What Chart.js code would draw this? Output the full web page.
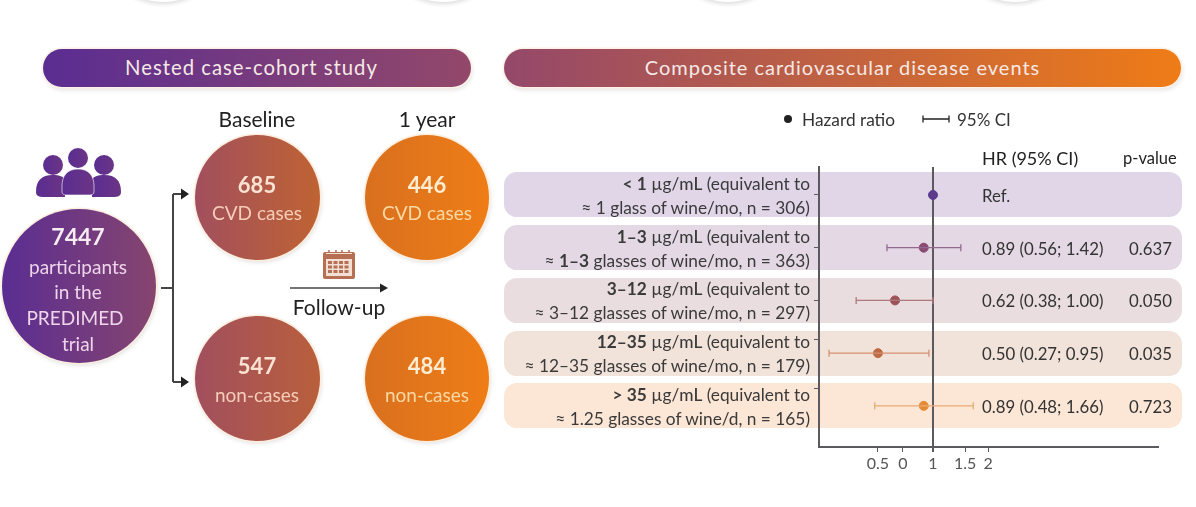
<!DOCTYPE html>
<html>
<head>
<meta charset="utf-8">
<title>Composite cardiovascular disease events</title>
<script src="https://cdn.jsdelivr.net/npm/chart.js@4/dist/chart.umd.min.js"></script>
<style>
  html, body { margin: 0; padding: 0; background: #fff; }
  body { width: 1196px; height: 507px; position: relative; overflow: hidden; font-family: Lato, sans-serif; color: #333; }
  #chart { position: absolute; left: 0; top: 0; z-index: 2; }
  .abs { position: absolute; white-space: nowrap; z-index: 3; }
  .center { transform: translate(-50%, -50%); text-align: center; }
  .middle { transform: translateY(-50%); }
  .pill { position: absolute; top: 49px; height: 38px; border-radius: 19px; color: #f6e9e6; font-size: 20px; letter-spacing: 1px; line-height: 37px; text-align: center; box-shadow: 0 0 0 1.5px #fdf0e6, 1px 3px 5px rgba(0,0,0,.12); }
  .circle { position: absolute; border-radius: 50%; box-shadow: 0 0 0 1.5px #fdeedd, 1px 2px 5px rgba(0,0,0,.15); }
  .band { position: absolute; left: 504px; width: 678px; height: 45px; border-radius: 13px; z-index: 1; }
  .ghost { position: absolute; top: -128px; width: 130px; height: 130px; border-radius: 50%; background: #fff; box-shadow: 0 2px 4px rgba(0,0,0,.14); }
  .row-label { right: 386px; text-align: right; font-size: 17.3px; color: #3a3a3a; transform: translateY(-50%); }
  .big { font-size: 22px; font-weight: 700; }
  .small { font-size: 19px; }
  b.mid { font-weight: 500; }
</style>
</head>
<body>
<div class="ghost" style="left:98px"></div>
<div class="ghost" style="left:378px"></div>
<div class="ghost" style="left:663px"></div>
<div class="ghost" style="left:950px"></div>

<div class="pill" style="left:43px;width:428px;padding-right:0;text-indent:-11px;font-size:20.3px;background:linear-gradient(90deg,#5a2d92,#93486a)">Nested case-cohort study</div>
<div class="pill" style="left:504px;width:677px;background:linear-gradient(90deg,#94486a,#ef7c16)">Composite cardiovascular disease events</div>

<!-- people icon -->
<svg class="abs" style="left:34px;top:146px" width="90" height="54" viewBox="0 0 90 54">
  <defs><linearGradient id="pg" x1="0" x2="1" y1="0" y2="0"><stop offset="0" stop-color="#5a2d92"/><stop offset="1" stop-color="#6b3585"/></linearGradient></defs>
  <g fill="url(#pg)">
    <circle cx="19" cy="19" r="10"/><path d="M2 46c0-11 5-17 17-17 6 0 9 1 12 4v18H10c-5 0-8-1-8-5z"/>
    <circle cx="70" cy="19" r="10"/><path d="M87 46c0-11-5-17-17-17-6 0-9 1-12 4v18h21c5 0 8-1 8-5z"/>
    <path d="M28 40c0-10 5-17 16-17s16 7 16 17v6c0 2-2 3-4 3H32c-2 0-4-1-4-3z" stroke="#fff" stroke-width=".6"/>
    <circle cx="44" cy="12" r="10"/>
  </g>
</svg>

<div class="circle" style="left:2px;top:209px;width:154px;height:154px;background:linear-gradient(90deg,#5a2d92,#86456f)"></div>
<div class="abs center big" style="left:78px;top:236px;color:#f6ecf2;font-size:23px">7447</div>
<div class="abs center small" style="left:78px;top:266px;color:#eed5ea">participants</div>
<div class="abs center small" style="left:78px;top:291px;color:#eed5ea">in the</div>
<div class="abs center small" style="left:75px;top:317px;color:#eed5ea">PREDIMED</div>
<div class="abs center small" style="left:78px;top:343px;color:#eed5ea">trial</div>

<div class="abs center" style="left:257px;top:118px;font-size:21px;color:#222">Baseline</div>
<div class="abs center" style="left:427px;top:118px;font-size:21px;color:#222">1 year</div>

<div class="circle" style="left:195px;top:135px;width:125px;height:125px;background:linear-gradient(90deg,#a14f5e,#bf6332)"></div>
<div class="circle" style="left:365px;top:135px;width:124px;height:125px;background:linear-gradient(90deg,#d9701f,#ee7d16)"></div>
<div class="circle" style="left:195px;top:316px;width:125px;height:125px;background:linear-gradient(90deg,#a14f5e,#b95f3c)"></div>
<div class="circle" style="left:365px;top:316px;width:124px;height:125px;background:linear-gradient(90deg,#d9701f,#ee7d16)"></div>

<div class="abs center big" style="left:257px;top:184px;color:#fbe3d3">685</div>
<div class="abs center small" style="left:257px;top:212px;color:#f6cdb8">CVD cases</div>
<div class="abs center big" style="left:427px;top:184px;color:#fdedd2">446</div>
<div class="abs center small" style="left:427px;top:212px;color:#fbd9a4">CVD cases</div>
<div class="abs center big" style="left:257px;top:365px;color:#fbe3d3">547</div>
<div class="abs center small" style="left:257px;top:394px;color:#f6cdb8">non-cases</div>
<div class="abs center big" style="left:427px;top:365px;color:#fdedd2">484</div>
<div class="abs center small" style="left:427px;top:394px;color:#fbd9a4">non-cases</div>

<!-- connectors -->
<svg class="abs" style="left:0;top:0" width="500" height="507">
  <path d="M161 288H173M173 194V382M173 194H183M173 382H183" stroke="#444" stroke-width="2" fill="none"/>
  <path d="M181 188.500L189 194L181 199.500zM181 376.500L189 382L181 387.500z" fill="#222"/>
  <path d="M290 288H382" stroke="#444" stroke-width="1.500" fill="none"/>
  <path d="M380 283.500L388 288L380 292.500z" fill="#222"/>
  <!-- calendar -->
  <rect x="323" y="252" width="32" height="27" rx="2" fill="#b66f55"/>
  <path d="M329 250v5M336 250v5M342 250v5M349 250v5" stroke="#b66f55" stroke-width="1.500"/>
  <path d="M326 253.500h26" stroke="#f3e0d4" stroke-width="1"/>
  <rect x="326" y="259" width="26" height="17" fill="#f3e0d4"/>
  <g fill="#b66f55">
    <rect x="328" y="261" width="4" height="3"/><rect x="333.500" y="261" width="4" height="3"/><rect x="339" y="261" width="4" height="3"/><rect x="344.500" y="261" width="4" height="3"/>
    <rect x="328" y="265.500" width="4" height="3"/><rect x="333.500" y="265.500" width="4" height="3"/><rect x="339" y="265.500" width="4" height="3"/><rect x="344.500" y="265.500" width="4" height="3"/>
    <rect x="328" y="270" width="4" height="3"/><rect x="333.500" y="270" width="4" height="3"/><rect x="339" y="270" width="4" height="3"/><rect x="344.500" y="270" width="4" height="3"/>
  </g>
</svg>
<div class="abs center" style="left:339px;top:306px;font-size:21px;color:#222">Follow-up</div>

<!-- legend -->
<svg class="abs" style="left:780px;top:110px" width="180" height="18">
  <circle cx="8" cy="9" r="4" fill="#222"/>
  <path d="M143 9H169M143 5.500V12.500M169 5.500V12.500" stroke="#222" stroke-width="1.300" fill="none"/>
</svg>
<div class="abs middle" style="left:802px;top:119px;font-size:17.300px">Hazard ratio</div>
<div class="abs middle" style="left:957px;top:119px;font-size:17px">95% CI</div>
<div class="abs middle" style="left:982px;top:158px;font-size:18px;color:#222">HR (95% CI)</div>
<div class="abs middle" style="left:1123px;top:158px;font-size:16.500px;color:#222">p-value</div>

<canvas id="chart" width="1196" height="507"></canvas>

<script>
// values
const doseRanges = ['< 1', '1–3', '3–12', '12–35', '> 35'];
const wineAmounts = ['1', '1–3', '3–12', '12–35', '1.25'];
const wineUnits = ['glass of wine/mo', 'glasses of wine/mo', 'glasses of wine/mo', 'glasses of wine/mo', 'glasses of wine/d'];
const participants = [306, 363, 297, 179, 165];
const hazardRatios = [1, 0.89, 0.62, 0.50, 0.89];
const ciLower = [null, 0.56, 0.38, 0.27, 0.48];
const ciUpper = [null, 1.42, 1.00, 0.95, 1.66];
const pValues = ['', '0.637', '0.050', '0.035', '0.723'];
const xTickValues = [0.5, 0.685, 1, 1.5, 2];
const xTickLabels = ['0.5', '0', '1', '1.5', '2'];
const yTickRows = [0, 1, 2, 2.75, 3.68];

const dotColors = ['#5c3a8c', '#8a4a72', '#9c5058', '#bd6a45', '#e58a35'];
const ciColors = ['#5c3a8c', '#93688e', '#ab7a7c', '#d5906f', '#e8ac72'];
const bandColors = ['#e0d6e8', '#e3d8e4', '#e9dde0', '#f2e3da', '#fce6d6'];

const axisColor = '#5a5a5f';

// one line per confidence interval, the caps are rotated line points
const ciDatasets = hazardRatios.map((hr, i) => ({
  type: 'line',
  data: ciLower[i] === null ? [] : [{ x: ciLower[i], y: i }, { x: ciUpper[i], y: i }],
  borderColor: ciColors[i],
  borderWidth: 1.3,
  pointStyle: 'line',
  pointRotation: 90,
  pointRadius: 3.5,
  pointBorderColor: ciColors[i],
  pointBorderWidth: 1.3
}));

const chart = new Chart(document.getElementById('chart').getContext('2d'), {
  type: 'scatter',
  data: {
    datasets: [
      ...ciDatasets,
      {
        data: hazardRatios.map((hr, i) => ({ x: hr, y: i })),
        backgroundColor: dotColors,
        borderColor: dotColors,
        pointRadius: 4.5
      }
    ]
  },
  options: {
    responsive: false,
    animation: false,
    layout: { padding: { left: 813, right: 38, top: 167, bottom: 30 } },
    plugins: { legend: { display: false }, tooltip: { enabled: false } },
    scales: {
      x: {
        type: 'logarithmic',
        min: 0.238,
        max: 17,
        afterBuildTicks: s => { s.ticks = xTickValues.map(v => ({ value: v })); },
        afterFit: s => { s.height = 30; },
        border: { color: axisColor, width: 2 },
        grid: {
          color: c => c.tick && c.tick.value === 1 ? axisColor : 'transparent',
          lineWidth: c => c.tick && c.tick.value === 1 ? 2 : 1,
          tickColor: axisColor,
          tickLength: 5
        },
        ticks: {
          autoSkip: false,
          maxRotation: 0,
          padding: 2,
          color: '#555',
          font: { family: 'Lato', size: 16 },
          callback: (v, i) => xTickLabels[i]
        }
      },
      y: {
        type: 'linear',
        reverse: true,
        min: -0.53,
        max: 4.78,
        afterBuildTicks: s => { s.ticks = yTickRows.map(v => ({ value: v })); },
        afterFit: s => { s.width = 6; },
        border: { color: axisColor, width: 2 },
        grid: { drawOnChartArea: false, tickColor: axisColor, tickLength: 5 },
        ticks: { display: false }
      }
    }
  }
});

// rows sit on the chart's own y scale
function addDiv(cls, style, html) {
  const d = document.createElement('div');
  d.className = cls;
  d.style.cssText = style;
  d.innerHTML = html;
  document.body.appendChild(d);
}
const esc = s => s.replace('<', '&lt;').replace('>', '&gt;');
doseRanges.forEach((dose, i) => {
  const y = chart.scales.y.getPixelForValue(i);
  addDiv('band', `top:${y - 22.5}px;background:${bandColors[i]}`, '');
  const amount = i === 1 ? `<b>${wineAmounts[i]}</b>` : wineAmounts[i];
  addDiv('abs row-label', `top:${y - 12}px`, `<b>${esc(dose)}</b> µg/<b class="mid">mL</b> (equivalent to`);
  addDiv('abs row-label', `top:${y + 12}px`, `≈ ${amount} ${wineUnits[i]}, n = ${participants[i]})`);
  const hrText = ciLower[i] === null ? 'Ref.' :
    `${hazardRatios[i].toFixed(2)} (${ciLower[i].toFixed(2)}; ${ciUpper[i].toFixed(2)})`;
  addDiv('abs middle', `left:982px;top:${y}px;font-size:16.8px`, hrText);
  addDiv('abs middle', `left:1129px;top:${y}px;font-size:16.8px`, pValues[i]);
});
</script>
</body>
</html>
